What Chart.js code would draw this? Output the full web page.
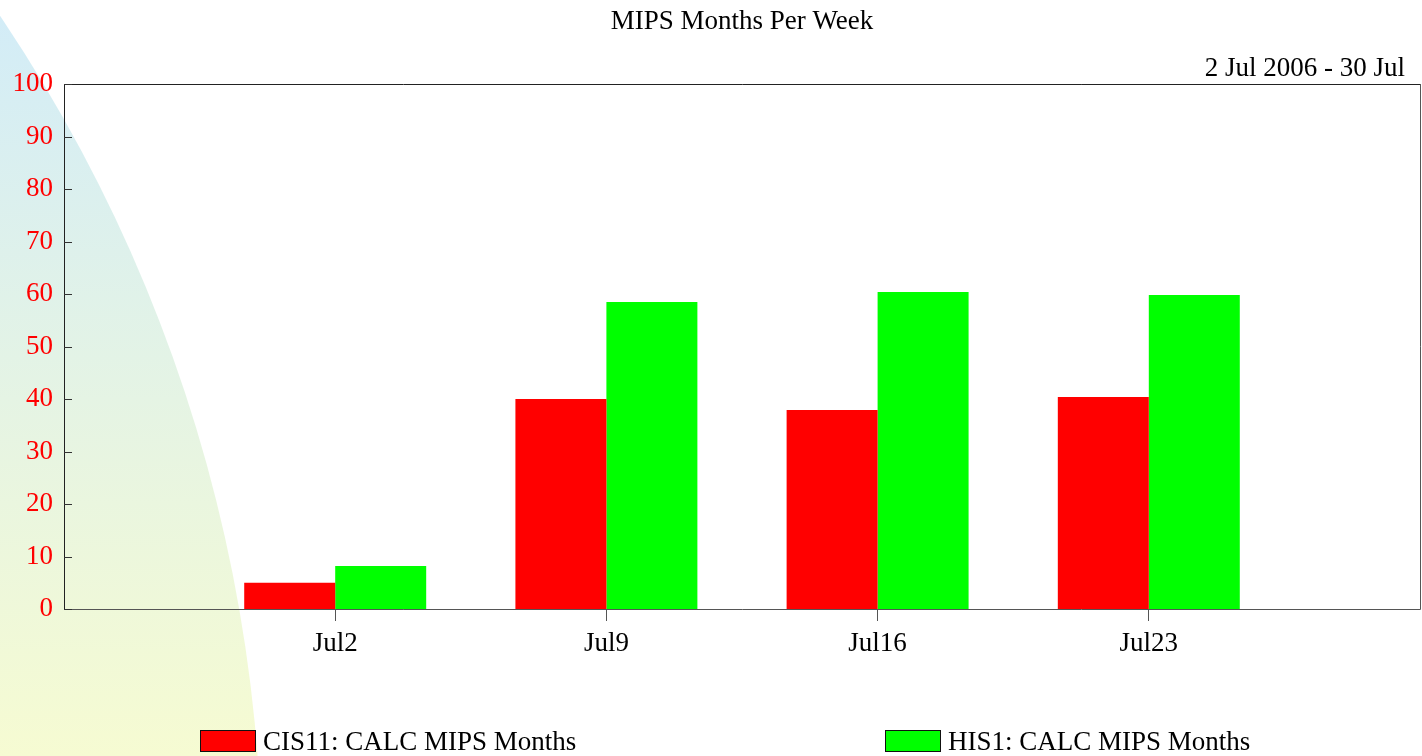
<!DOCTYPE html>
<html>
<head>
<meta charset="utf-8">
<script src="https://cdn.jsdelivr.net/npm/chart.js@4.4.1/dist/chart.umd.min.js"></script>
<style>
  html, body { margin: 0; padding: 0; background: #ffffff; }
  #wrap { width: 1422px; height: 756px; }
</style>
</head>
<body>
<div id="wrap"><canvas id="c" width="1422" height="756"></canvas></div>
<script>
// ---- data ----
const categories = ['Jul2', 'Jul9', 'Jul16', 'Jul23'];
const cis11Values = [5.0, 40.0, 37.9, 40.4];
const his1Values = [8.2, 58.5, 60.4, 59.8];
const seriesNames = ['CIS11: CALC MIPS Months', 'HIS1: CALC MIPS Months'];
const seriesColors = ['#ff0000', '#00ff00'];
const yTicks = [0, 10, 20, 30, 40, 50, 60, 70, 80, 90, 100];
const chartTitle = 'MIPS Months Per Week';
const dateRange = '2 Jul 2006 - 30 Jul';

// pad with empty slots on both sides so weeks sit at 1..4 of 0..5
const labels = [''].concat(categories, ['']);
const padded = arr => [null].concat(arr, [null]);

const FONT = "'Liberation Serif', 'Times New Roman', serif";

const decorPlugin = {
  id: 'decor',
  beforeDraw(chart) {
    const ctx = chart.ctx;
    ctx.save();
    ctx.fillStyle = '#ffffff';
    ctx.fillRect(0, 0, chart.width, chart.height);
    const g = ctx.createLinearGradient(0, 0, 0, chart.height);
    g.addColorStop(0, '#d2ecf8');
    g.addColorStop(1, '#f6fbd2');
    ctx.fillStyle = g;
    ctx.beginPath();
    ctx.arc(-1268, 872, 1530, 0, Math.PI * 2);
    ctx.fill();
    ctx.restore();
  },
  afterDatasetsDraw(chart) {
    const ctx = chart.ctx;
    const a = chart.chartArea;
    const y = chart.scales.y;
    ctx.save();
    // plot frame
    ctx.lineWidth = 1;
    ctx.strokeStyle = '#555555';
    ctx.beginPath();
    ctx.moveTo(a.left, a.bottom + 0.5);
    ctx.lineTo(a.right + 0.5, a.bottom + 0.5);
    ctx.lineTo(a.right + 0.5, a.top);
    ctx.stroke();
    ctx.strokeStyle = '#222222';
    ctx.beginPath();
    ctx.moveTo(a.right, a.top + 0.5);
    ctx.lineTo(a.left + 0.5, a.top + 0.5);
    ctx.lineTo(a.left + 0.5, a.bottom + 1);
    ctx.stroke();
    // inward y tick marks
    ctx.strokeStyle = '#333333';
    yTicks.forEach(v => {
      const py = Math.round(y.getPixelForValue(v)) + 0.5;
      ctx.beginPath();
      ctx.moveTo(a.left, py);
      ctx.lineTo(a.left + 8, py);
      ctx.stroke();
    });
    ctx.restore();
  },
  afterDraw(chart) {
    const ctx = chart.ctx;
    ctx.save();
    ctx.font = '27px ' + FONT;
    ctx.fillStyle = '#000000';
    ctx.textBaseline = 'middle';
    ctx.textAlign = 'right';
    ctx.fillText(dateRange, 1405, 69);
    // legend
    const legendX = [200, 885];
    chart.data.datasets.forEach((ds, i) => {
      const x = legendX[i];
      ctx.fillStyle = ds.backgroundColor;
      ctx.fillRect(x, 730, 55, 21);
      ctx.strokeStyle = '#111111';
      ctx.lineWidth = 1;
      ctx.strokeRect(x + 0.5, 730.5, 55, 21);
      ctx.fillStyle = '#000000';
      ctx.textAlign = 'left';
      ctx.fillText(ds.label, x + 63, 743);
    });
    ctx.restore();
  }
};

new Chart(document.getElementById('c'), {
  type: 'bar',
  data: {
    labels: labels,
    datasets: [
      { label: seriesNames[0], data: padded(cis11Values), backgroundColor: seriesColors[0], borderWidth: 0 },
      { label: seriesNames[1], data: padded(his1Values), backgroundColor: seriesColors[1], borderWidth: 0 }
    ]
  },
  options: {
    responsive: false,
    animation: false,
    layout: { padding: { left: 0, right: 2, top: 0, bottom: 0 } },
    datasets: { bar: { categoryPercentage: 0.671, barPercentage: 1.0 } },
    plugins: {
      legend: { display: false },
      tooltip: { enabled: false },
      title: {
        display: true,
        text: chartTitle,
        fullSize: false,
        color: '#000000',
        font: { family: FONT, size: 27, weight: 'normal', lineHeight: 1.2 },
        padding: { top: 6, bottom: 45.6 }
      }
    },
    scales: {
      x: {
        type: 'category',
        offset: false,
        grid: {
          display: true,
          offset: false,
          drawOnChartArea: false,
          drawTicks: true,
          tickLength: 12,
          color: ctx => (ctx.index === 0 || ctx.index === labels.length - 1) ? 'rgba(0,0,0,0)' : '#555555'
        },
        border: { display: false },
        ticks: {
          autoSkip: false,
          maxRotation: 0,
          color: '#000000',
          padding: 7,
          font: { family: FONT, size: 27 }
        },
        afterFit: s => { s.height = 147; s.paddingLeft = 0; s.paddingRight = 0; }
      },
      y: {
        min: 0,
        max: 100,
        grid: { display: false, drawTicks: false },
        border: { display: false },
        ticks: {
          stepSize: 10,
          color: '#ff0000',
          padding: 11,
          font: { family: FONT, size: 27 }
        },
        afterFit: s => { s.width = 64; s.paddingTop = 0; s.paddingBottom = 0; }
      }
    }
  },
  plugins: [decorPlugin]
});
</script>
</body>
</html>
